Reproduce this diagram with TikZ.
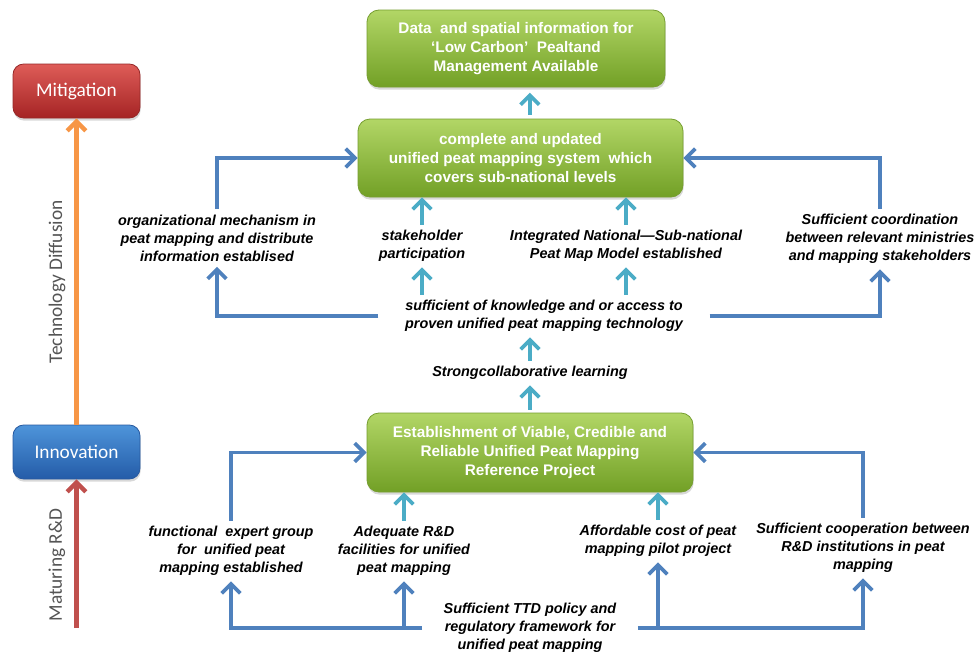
\documentclass[tikz,border=0pt]{standalone}
\usepackage{fontspec}
\setmainfont{Liberation Sans}
\newfontfamily\calfont{Carlito}
\usetikzlibrary{arrows.meta,shadows,calc}
\definecolor{gtop}{RGB}{178,214,102}
\definecolor{gbot}{RGB}{114,160,38}
\definecolor{gedge}{RGB}{118,158,48}
\definecolor{rtop}{RGB}{222,92,88}
\definecolor{rbot}{RGB}{165,36,36}
\definecolor{redge}{RGB}{150,40,40}
\definecolor{btop}{RGB}{78,148,218}
\definecolor{bbot}{RGB}{36,92,168}
\definecolor{bedge}{RGB}{40,90,160}
\definecolor{cblue}{RGB}{79,129,189}
\definecolor{cteal}{RGB}{75,172,198}
\definecolor{corange}{RGB}{247,150,70}
\definecolor{cred}{RGB}{192,80,77}
\definecolor{gtext}{RGB}{85,85,85}
\begin{document}
\begin{tikzpicture}[x=0.75pt,y=-0.75pt,
  gbox/.style={rounded corners=9pt, top color=gtop, bottom color=gbot, draw=gedge, line width=0.6pt,
    drop shadow={shadow xshift=0.5pt,shadow yshift=-2pt,opacity=0.3}, text=white,
    font=\bfseries\fontsize{11.5}{14.25}\selectfont, align=center, inner sep=0pt},
  sbox/.style={rounded corners=8pt, minimum width=95.25pt, minimum height=40.5pt, line width=0.6pt,
    drop shadow={shadow xshift=0.5pt,shadow yshift=-2pt,opacity=0.3}, text=white,
    font=\calfont\fontsize{14.5}{16}\selectfont, inner sep=0pt},
  lab/.style={font=\bfseries\itshape\fontsize{10.8}{13.5}\selectfont, align=center, inner sep=4pt},
  side/.style={rotate=90, text=gtext, font=\calfont\fontsize{14.5}{16}\selectfont, inner sep=0pt},
  barb/.style={-{Straight Barb[length=7pt,width=14pt]}},
  barrow/.style={barb, draw=cblue, line width=2.8pt},
  tarrow/.style={barb, draw=cteal, line width=2.8pt},
  oarrow/.style={barb, draw=corange, line width=3.3pt},
  rarrow/.style={barb, draw=cred, line width=3.3pt}
]
\fill[white] (0,0) rectangle (976,657);
\useasboundingbox (0,0) rectangle (976,657);

% side boxes
\node[sbox, top color=rtop, bottom color=rbot, draw=redge] (mit) at (76.5,91) {Mitigation};
\node[sbox, top color=btop, bottom color=bbot, draw=bedge] (inn) at (76.5,452) {Innovation};
\node[side] (td) at (57,282) {Technology Diffusion};
\node[side] (mrd) at (57,565) {Maturing R\&D};
\coordinate (rbase) at (76.5,628);
\draw[oarrow] (inn.north) -- (mit.south);
\draw[rarrow] (rbase) -- (inn.south);

% main boxes
\node[gbox, minimum width=223.5pt, minimum height=57.75pt] (top) at (516,48.5)
  {Data\ \ and spatial information for\\‘Low Carbon’\ \ Pealtand\\Management Available};
\node[gbox, minimum width=243.75pt, minimum height=58.5pt] (sys) at (520.5,158)
  {complete and updated\\unified peat mapping system\ \ which\\covers sub-national levels};
\node[gbox, minimum width=244.5pt, minimum height=59.25pt] (ref) at (530,452.5)
  {Establishment of Viable, Credible and\\Reliable Unified Peat Mapping\\Reference Project};

% labels
\node[lab] (org) at (217,238) {organizational mechanism in\\peat mapping and distribute\\information establised};
\node[lab] (stk) at (422,246) {stakeholder\\participation};
\node[lab] (int) at (626,246) {Integrated National—Sub-national\\Peat Map Model established};
\node[lab] (crd) at (880,239) {Sufficient coordination\\between relevant ministries\\and mapping stakeholders};
\node[lab] (knw) at (544,316) {sufficient of knowledge and or access to\\proven unified peat mapping technology};
\node[lab] (col) at (530,373) {Strongcollaborative learning};
\node[lab] (fun) at (231,551) {functional\ \ expert group\\for\ \ unified peat\\mapping established};
\node[lab] (adq) at (404,551) {Adequate R\&D\\facilities for unified\\peat mapping};
\node[lab] (aff) at (658,541) {Affordable cost of peat\\mapping pilot project};
\node[lab] (coo) at (863,548) {Sufficient cooperation between\\R\&D institutions in peat\\mapping};
\node[lab] (ttd) at (530,628) {Sufficient TTD policy and\\regulatory framework for\\unified peat mapping};

% teal arrows
\draw[tarrow, shorten <=3pt, shorten >=4pt] ([xshift=7pt]sys.north) -- ([xshift=7pt]sys.north |- top.south);
\draw[tarrow] (stk.north) -- (stk.north |- sys.south);
\draw[tarrow] (stk.south |- knw.north) -- (stk.south);
\draw[tarrow] (int.north) -- (int.north |- sys.south);
\draw[tarrow] (int.south |- knw.north) -- (int.south);
\draw[tarrow] (col.north) -- (col.north |- knw.south);
\draw[tarrow, shorten <=2pt] (col.south |- ref.north) -- (col.south);
\draw[tarrow] (adq.north) -- (adq.north |- ref.south);
\draw[tarrow] (aff.north) -- (aff.north |- ref.south);

% blue connectors
\draw[barrow] ([xshift=-16pt]knw.west) -| (org.south);
\draw[barrow] ([xshift=16pt]knw.east) -| (crd.south);
\draw[barrow] (org.north) |- (sys.west);
\draw[barrow] (crd.north) |- (sys.east);
\draw[barrow] ([xshift=-12pt]ttd.west) -| (fun.south);
\draw[barrow] (adq.south |- ttd.west) -- (adq.south);
\draw[barrow] ([xshift=12pt]ttd.east) -| (coo.south);
\draw[barrow] (aff.south |- ttd.east) -- (aff.south);
\draw[barrow] (fun.north) |- (ref.west);
\draw[barrow] (coo.north) |- (ref.east);
\end{tikzpicture}
\end{document}
